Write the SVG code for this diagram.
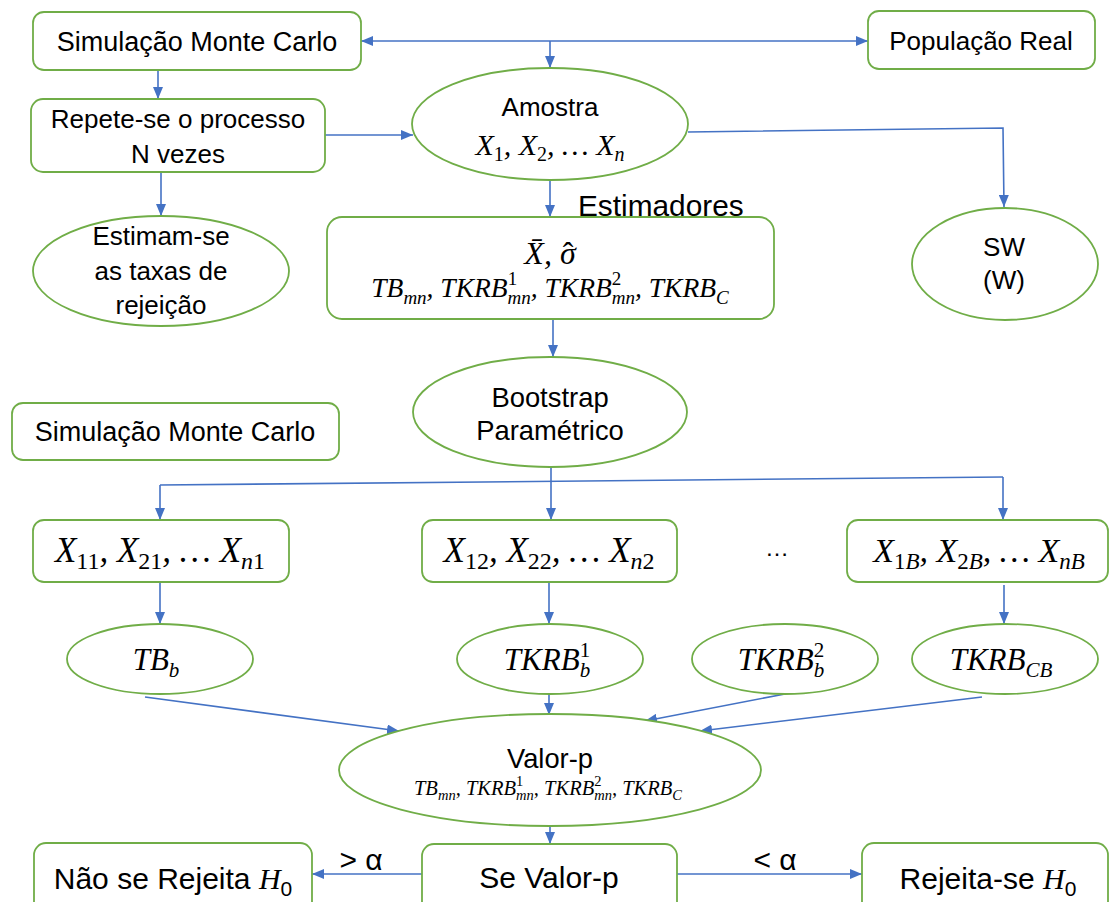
<svg xmlns="http://www.w3.org/2000/svg" width="1110" height="902" viewBox="0 0 1110 902">
<style>
.box{fill:#fff;stroke:#70AD47;stroke-width:1.8}
.ln{stroke:#4472C4;stroke-width:1.6;fill:none}
.ar{marker-end:url(#ah)}
.t{font-family:'Liberation Sans',Arial,sans-serif;fill:#000;text-anchor:middle}
.m{font-family:'Liberation Serif','Times New Roman',serif;font-style:italic;fill:#000;text-anchor:middle}
.u{font-style:normal}
</style>
<defs>
<marker id="ah" viewBox="0 0 12 10" refX="12" refY="5" markerWidth="12" markerHeight="10" markerUnits="userSpaceOnUse" orient="auto-start-reverse">
<path d="M0,0 L12,5 L0,10 z" fill="#4472C4"/>
</marker>
</defs>
<rect width="1110" height="902" fill="#fff"/>

<g id="connectors">
<line class="ln" x1="361" y1="41" x2="868" y2="41" marker-start="url(#ah)" marker-end="url(#ah)"/>
<line class="ln ar" x1="550" y1="41" x2="550" y2="68"/>
<line class="ln ar" x1="158" y1="70" x2="158" y2="99"/>
<line class="ln ar" x1="161" y1="173" x2="161" y2="216"/>
<line class="ln ar" x1="325" y1="135" x2="413" y2="135"/>
<polyline class="ln ar" points="688,132 1003,128 1004,207"/>
<line class="ln ar" x1="550" y1="180" x2="550" y2="217"/>
<line class="ln ar" x1="553" y1="319" x2="553" y2="357"/>
<line class="ln ar" x1="551" y1="467" x2="551" y2="520"/>
<line class="ln" x1="160" y1="485" x2="1003" y2="477"/>
<line class="ln ar" x1="160" y1="485" x2="160" y2="520"/>
<line class="ln ar" x1="1003" y1="477" x2="1003" y2="520"/>
<line class="ln ar" x1="160" y1="582" x2="160" y2="624"/>
<line class="ln ar" x1="549" y1="582" x2="549" y2="624"/>
<line class="ln ar" x1="1004" y1="585" x2="1004" y2="624"/>
<line class="ln ar" x1="549" y1="694" x2="549" y2="715"/>
<line class="ln ar" x1="145" y1="697" x2="399" y2="731"/>
<line class="ln ar" x1="785" y1="694" x2="645" y2="721"/>
<line class="ln ar" x1="982" y1="697" x2="700" y2="731"/>
<line class="ln ar" x1="550" y1="826" x2="550" y2="844"/>
<line class="ln ar" x1="422" y1="874" x2="312" y2="874"/>
<line class="ln ar" x1="677" y1="874" x2="862" y2="874"/>
<text class="t" x="361" y="870" font-size="30">&gt; α</text>
<text class="t" x="775" y="870" font-size="30">&lt; α</text>
</g>

<g id="sim1">
<rect class="box" x="33" y="12" width="328" height="58" rx="11"/>
<text class="t" x="197" y="51" font-size="27">Simulação Monte Carlo</text>
</g>
<g id="pop">
<rect class="box" x="868" y="11" width="227" height="58" rx="11"/>
<text class="t" x="981" y="50" font-size="26">População Real</text>
</g>
<g id="repete">
<rect class="box" x="31" y="99" width="294" height="73" rx="12"/>
<text class="t" x="178" y="128" font-size="26">Repete-se o processo</text>
<text class="t" x="178" y="163" font-size="26">N vezes</text>
</g>
<g id="estimam">
<ellipse class="box" cx="161" cy="271" rx="128" ry="55"/>
<text class="t" x="161" y="245" font-size="26">Estimam-se</text>
<text class="t" x="161" y="280" font-size="26">as taxas de</text>
<text class="t" x="161" y="314" font-size="26">rejeição</text>
</g>
<g id="amostra">
<ellipse class="box" cx="550" cy="124" rx="138" ry="56"/>
<text class="t" x="550" y="116" font-size="26">Amostra</text>
<text class="m" x="550" y="155" font-size="30">X<tspan class="u" font-size="20" dy="6">1</tspan><tspan dy="-6">, X</tspan><tspan class="u" font-size="20" dy="6">2</tspan><tspan dy="-6">, … X</tspan><tspan font-size="20" dy="6">n</tspan></text>
</g>
<g id="estimadores">
<rect class="box" x="327" y="217" width="447" height="102" rx="15"/>
<text class="t" x="578" y="216" font-size="29.8" style="text-anchor:start">Estimadores</text>
<text class="m" x="550" y="264" font-size="32">X̄, σ<tspan class="u" dx="-13">ˆ</tspan></text>
<text class="m" x="550" y="297" font-size="27.5">TB<tspan font-size="19" dy="6.5">mn</tspan><tspan dy="-6.5">, TKRB</tspan><tspan font-size="19" dy="6.5">mn</tspan><tspan class="u" font-size="19" dx="-23.2" dy="-19">1</tspan><tspan dx="13.7" dy="12.5">, TKRB</tspan><tspan font-size="19" dy="6.5">mn</tspan><tspan class="u" font-size="19" dx="-23.2" dy="-19">2</tspan><tspan dx="13.7" dy="12.5">, TKRB</tspan><tspan font-size="19" dy="6.5">C</tspan></text>
</g>
<g id="sw">
<ellipse class="box" cx="1005" cy="264" rx="93" ry="56"/>
<text class="t" x="1004" y="256" font-size="26">SW</text>
<text class="t" x="1004" y="289" font-size="26">(W)</text>
</g>
<g id="bootstrap">
<ellipse class="box" cx="550" cy="412" rx="137" ry="55"/>
<text class="t" x="550" y="407" font-size="27.4">Bootstrap</text>
<text class="t" x="550" y="440" font-size="27.4">Paramétrico</text>
</g>
<g id="sim2">
<rect class="box" x="12" y="403" width="327" height="57" rx="11"/>
<text class="t" x="175" y="441" font-size="27">Simulação Monte Carlo</text>
</g>
<g id="x1">
<rect class="box" x="33" y="520" width="256" height="62" rx="11"/>
<text class="m" x="160" y="562" font-size="35">X<tspan class="u" font-size="24" dy="7">11</tspan><tspan dy="-7">, X</tspan><tspan class="u" font-size="24" dy="7">21</tspan><tspan dy="-7">, … X</tspan><tspan font-size="24" dy="7">n</tspan><tspan class="u" font-size="24">1</tspan></text>
</g>
<g id="x2">
<rect class="box" x="422" y="520" width="255" height="62" rx="11"/>
<text class="m" x="549" y="562" font-size="35">X<tspan class="u" font-size="24" dy="7">12</tspan><tspan dy="-7">, X</tspan><tspan class="u" font-size="24" dy="7">22</tspan><tspan dy="-7">, … X</tspan><tspan font-size="24" dy="7">n</tspan><tspan class="u" font-size="24">2</tspan></text>
</g>
<g id="dots">
<text class="t" x="777" y="556" font-size="24">…</text>
</g>
<g id="xB">
<rect class="box" x="847" y="520" width="261" height="62" rx="11"/>
<text class="m" x="979" y="562" font-size="34">X<tspan class="u" font-size="23" dy="7">1</tspan><tspan font-size="23">B</tspan><tspan dy="-7">, X</tspan><tspan class="u" font-size="23" dy="7">2</tspan><tspan font-size="23">B</tspan><tspan dy="-7">, … X</tspan><tspan font-size="23" dy="7">nB</tspan></text>
</g>
<g id="tbb">
<ellipse class="box" cx="160" cy="659" rx="93" ry="35"/>
<text class="m" x="156" y="670" font-size="31">TB<tspan font-size="21" dy="7">b</tspan></text>
</g>
<g id="tkrb1">
<ellipse class="box" cx="550" cy="659" rx="93" ry="35"/>
<text class="m" x="547" y="670" font-size="31">TKRB<tspan font-size="21" dy="7">b</tspan><tspan class="u" font-size="21" dx="-10.5" dy="-20">1</tspan></text>
</g>
<g id="tkrb2">
<ellipse class="box" cx="785" cy="659" rx="93" ry="35"/>
<text class="m" x="781" y="670" font-size="31">TKRB<tspan font-size="21" dy="7">b</tspan><tspan class="u" font-size="21" dx="-10.5" dy="-20">2</tspan></text>
</g>
<g id="tkrbcb">
<ellipse class="box" cx="1005" cy="659" rx="93" ry="35"/>
<text class="m" x="1001" y="670" font-size="31">TKRB<tspan font-size="21" dy="7">CB</tspan></text>
</g>
<g id="valorp">
<ellipse class="box" cx="550" cy="770" rx="211" ry="56"/>
<text class="t" x="550" y="768" font-size="27.3">Valor-p</text>
<text class="m" x="548" y="795" font-size="20.5">TB<tspan font-size="14.5" dy="4.5">mn</tspan><tspan dy="-4.5">, TKRB</tspan><tspan font-size="14.5" dy="4.5">mn</tspan><tspan class="u" font-size="14.5" dx="-17.7" dy="-14">1</tspan><tspan dx="10.5" dy="9.5">, TKRB</tspan><tspan font-size="14.5" dy="4.5">mn</tspan><tspan class="u" font-size="14.5" dx="-17.7" dy="-14">2</tspan><tspan dx="10.5" dy="9.5">, TKRB</tspan><tspan font-size="14.5" dy="4.5">C</tspan></text>
</g>
<g id="sevalor">
<rect class="box" x="422" y="844" width="255" height="72" rx="12"/>
<text class="t" x="549" y="888" font-size="30">Se Valor-p</text>
</g>
<g id="naorejeita">
<rect class="box" x="34" y="843" width="278" height="72" rx="12"/>
<text class="t" x="173" y="889" font-size="30">Não se Rejeita <tspan style="font-family:'Liberation Serif',serif;font-style:italic">H</tspan><tspan font-size="21" dy="7">0</tspan></text>
</g>
<g id="rejeita">
<rect class="box" x="862" y="843" width="246" height="72" rx="12"/>
<text class="t" x="988" y="889" font-size="30">Rejeita-se <tspan style="font-family:'Liberation Serif',serif;font-style:italic">H</tspan><tspan font-size="21" dy="7">0</tspan></text>
</g>
</svg>
